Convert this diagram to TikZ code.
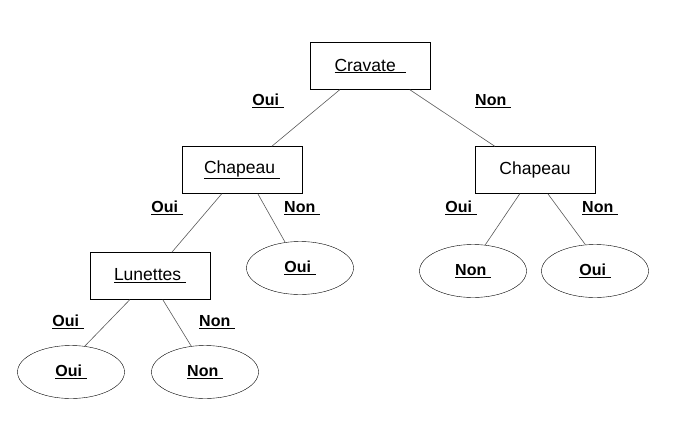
\documentclass[tikz,border=0pt]{standalone}
\usepackage{fontspec}
\setmainfont{Liberation Sans}
\usetikzlibrary{shapes.geometric}
\begin{document}
\begin{tikzpicture}[x=1pt,y=-1pt,
  box/.style={draw,minimum width=120pt,minimum height=47pt,font=\fontsize{17.5}{20}\selectfont},
  leaf/.style={draw,ellipse,minimum width=107pt,minimum height=53pt,font=\bfseries\fontsize{16}{19}\selectfont},
  lab/.style={font=\bfseries\fontsize{16}{19}\selectfont},
  edge/.style={draw=gray!70!black,line width=0.6pt}]
\useasboundingbox (0,0) rectangle (690,426);
\node[box] (cr) at (370,66) {\underline{Cravate\ \ }};
\node[box] (cl) at (242,170) {\underline{Chapeau\ }};
\node[box] (crr) at (535,170) {Chapeau};
\node[box] (lu) at (150,276) {\underline{Lunettes\ }};
\node[leaf] (l1) at (300,268) {\underline{Oui\ }};
\node[leaf] (l2) at (473,271) {\underline{Non\ }};
\node[leaf] (l3) at (595,271) {\underline{Oui\ }};
\node[leaf] (l4) at (71,372) {\underline{Oui\ }};
\node[leaf] (l5) at (205,372) {\underline{Non\ }};
\draw[edge] ([xshift=30pt]cr.south west) -- ([xshift=90pt]cl.north west);
\draw[edge] ([xshift=100pt]cr.south west) -- ([xshift=20pt]crr.north west);
\draw[edge] ([xshift=40pt]cl.south west) -- ([xshift=82pt]lu.north west);
\draw[edge] ([xshift=76pt]cl.south west) -- (l1.120);
\draw[edge] ([xshift=45pt]crr.south west) -- (l2.65);
\draw[edge] ([xshift=73pt]crr.south west) -- (l3.110);
\draw[edge] ([xshift=40pt]lu.south west) -- (l4.62);
\draw[edge] ([xshift=73pt]lu.south west) -- (l5.118);
\node[lab] (o1) at (268,101) {\underline{Oui\ }};
\node[lab] (n1) at (493,101) {\underline{Non\ }};
\node[lab] (o2) at (167,208) {\underline{Oui\ }};
\node[lab] (n2) at (302,208) {\underline{Non\ }};
\node[lab] (o3) at (461,208) {\underline{Oui\ }};
\node[lab] (n3) at (600,208) {\underline{Non\ }};
\node[lab] (o4) at (68,322) {\underline{Oui\ }};
\node[lab] (n4) at (217,322) {\underline{Non\ }};
\end{tikzpicture}
\end{document}
